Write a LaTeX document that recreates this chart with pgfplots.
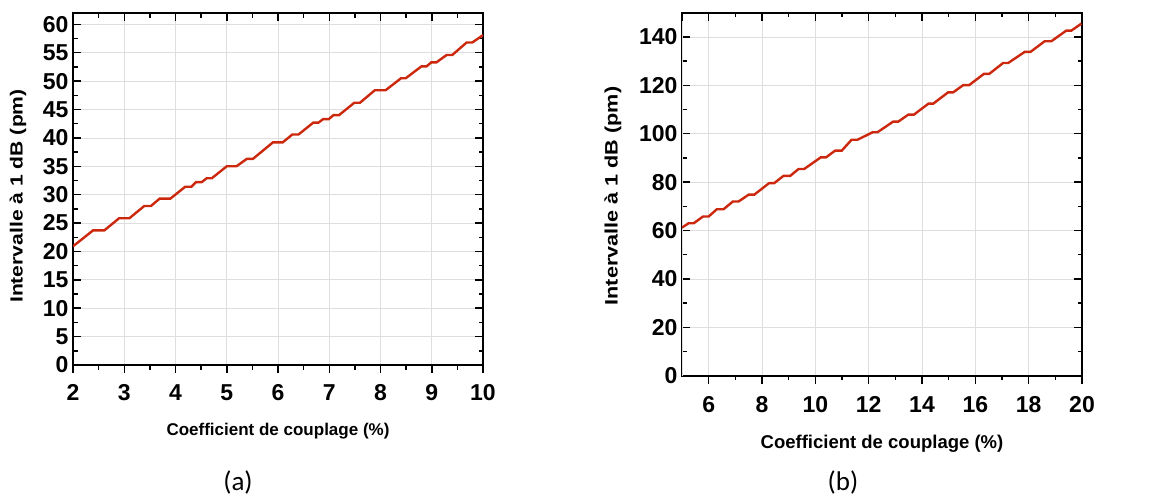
\documentclass[border=0pt]{standalone}
\usepackage{fontspec}
\usepackage{pgfplots}
\pgfplotsset{compat=1.18}
\setmainfont{Liberation Sans}
\newfontfamily\fn{Liberation Sans}
\newfontfamily\fy{Liberation Sans}[FakeStretch=1.2]
\newfontfamily\capfont{Carlito}
\definecolor{curve}{RGB}{204,40,14}
\definecolor{gridc}{RGB}{222,222,222}

\pgfplotstableread{
x y
2.00 20.9
2.39 23.7
2.61 23.7
2.90 25.85
3.10 25.85
3.39 28.0
3.52 28.0
3.69 29.3
3.90 29.3
4.19 31.4
4.31 31.4
4.40 32.2
4.51 32.2
4.61 32.9
4.71 32.9
5.00 35.0
5.19 35.0
5.39 36.3
5.51 36.3
5.90 39.2
6.09 39.2
6.28 40.6
6.40 40.6
6.69 42.7
6.79 42.7
6.88 43.3
6.99 43.3
7.08 44.0
7.19 44.0
7.49 46.2
7.60 46.2
7.89 48.4
8.10 48.4
8.40 50.5
8.49 50.5
8.80 52.6
8.90 52.6
8.99 53.3
9.09 53.3
9.29 54.6
9.40 54.6
9.68 56.8
9.79 56.8
10.00 58.1
}\dataA

\pgfplotstableread{
x y
5.00 61.2
5.25 63.0
5.44 63.0
5.79 65.8
6.00 65.8
6.31 68.8
6.56 68.8
6.91 72.0
7.12 72.0
7.50 74.8
7.71 74.8
8.27 79.6
8.46 79.6
8.81 82.6
9.06 82.6
9.37 85.4
9.58 85.4
10.20 90.2
10.40 90.2
10.74 93.0
10.99 93.0
11.36 97.5
11.58 97.5
12.15 100.6
12.33 100.6
12.92 105.0
13.11 105.0
13.49 107.9
13.70 107.9
14.24 112.4
14.42 112.4
14.98 117.1
15.17 117.1
15.55 120.1
15.77 120.1
16.32 124.7
16.52 124.7
17.04 129.2
17.23 129.2
17.85 133.8
18.07 133.8
18.60 138.2
18.85 138.2
19.41 142.6
19.60 142.6
19.98 145.5
}\dataB

\pgfplotsset{
  common/.style={
    scale only axis,
    anchor=south west,
    axis line style={line width=2.2pt},
    tick style={line width=1.5pt, black},
    major tick length=8pt,
    minor tick length=4.5pt,
    minor x tick num=1,
    minor y tick num=1,
    /pgf/number format/assume math mode=true,
  },
  mainax/.style={
    common,
    tick align=inside,
    xtick pos=right,
    xticklabel pos=left,
    ytick pos=both,
    yticklabel pos=left,
    grid=major,
    major grid style={gridc, line width=0.7pt},
  },
  overax/.style={
    common,
    tick align=outside,
    xtick pos=left,
    ytick=\empty,
    xticklabels={},
    axis line style={draw=none},
  },
}

\begin{document}
\begin{tikzpicture}[x=1pt,y=1pt]
\useasboundingbox (0,0) rectangle (1164,498);

% ---------- panel (a) ----------
\begin{axis}[mainax,
  at={(73pt,133pt)}, width=410pt, height=352pt,
  xmin=2, xmax=10, ymin=0, ymax=62,
  xtick={2,3,...,10}, ytick={0,5,...,60},
  tick label style={font=\fn\bfseries\fontsize{23}{23}\selectfont},
  yticklabel style={xshift=-1pt},
  xticklabel style={yshift=-16pt},
  xlabel={Coefficient de couplage (\%)},
  ylabel={Intervalle à 1 dB (pm)},
  xlabel style={font=\fn\bfseries\fontsize{17}{17}\selectfont, at={(axis description cs:0.5,-0.1875)}, anchor=center},
  ylabel style={font=\fy\bfseries\fontsize{17.6}{17.6}\selectfont, at={(axis description cs:-0.134,0.48)}, anchor=center},
]
\addplot[curve, line width=2.4pt] table[x=x,y=y]{\dataA};
\end{axis}
\begin{axis}[overax,
  at={(73pt,133pt)}, width=410pt, height=352pt,
  xmin=2, xmax=10, ymin=0, ymax=62,
  xtick={2,3,...,10},
]
\end{axis}

% ---------- panel (b) ----------
\begin{axis}[mainax,
  at={(682pt,122.3pt)}, width=400pt, height=363pt,
  xmin=5, xmax=20, ymin=0, ymax=150,
  xtick={6,8,...,20}, ytick={0,20,...,140},
  extra x ticks={5}, extra x tick labels={},
  tick label style={font=\fn\bfseries\fontsize{23}{23}\selectfont},
  yticklabel style={xshift=-1pt},
  xticklabel style={yshift=-17pt},
  xlabel={Coefficient de couplage (\%)},
  ylabel={Intervalle à 1 dB (pm)},
  xlabel style={font=\fn\bfseries\fontsize{18.5}{18.5}\selectfont, at={(axis description cs:0.5,-0.188)}, anchor=center},
  ylabel style={font=\fy\bfseries\fontsize{18}{18}\selectfont, at={(axis description cs:-0.1725,0.495)}, anchor=center},
]
\addplot[curve, line width=2.4pt] table[x=x,y=y]{\dataB};
\end{axis}
\begin{axis}[overax,
  at={(682pt,122.3pt)}, width=400pt, height=363pt,
  xmin=5, xmax=20, ymin=0, ymax=150,
  xtick={6,8,...,20},
]
\end{axis}

\node[font=\capfont\fontsize{27}{27}\selectfont] at (238,16) {(a)};
\node[font=\capfont\fontsize{27}{27}\selectfont] at (843,16) {(b)};
\end{tikzpicture}
\end{document}
